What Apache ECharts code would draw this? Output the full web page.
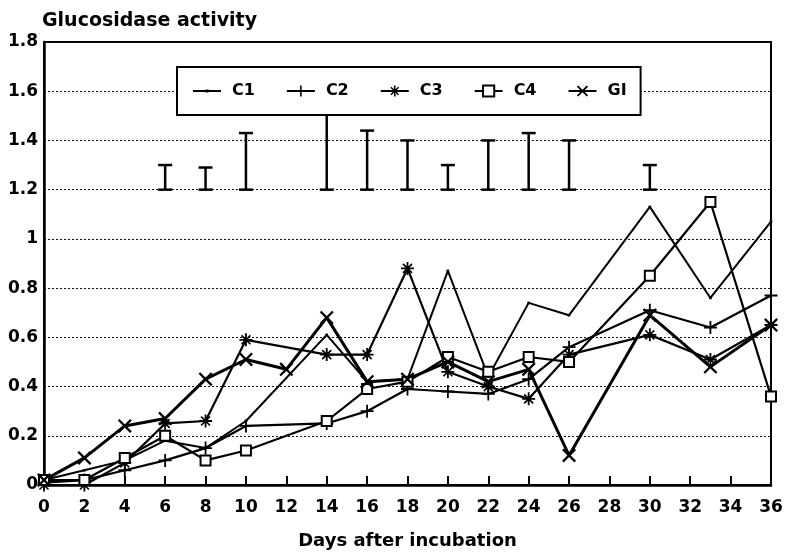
<!DOCTYPE html>
<html>
<head>
<meta charset="utf-8">
<script src="https://cdn.jsdelivr.net/npm/echarts@6/dist/echarts.min.js"></script>
<style>
html,body{margin:0;padding:0;background:#fff;}
#chart{width:787px;height:555px;}
</style>
</head>
<body>
<div id="chart"></div>
<script>
// ---- data ----
var days = [0, 2, 4, 6, 8, 10, 12, 14, 16, 18, 20, 22, 24, 26, 30, 33, 36];
var c1Vals = [0.02, 0.06, 0.10, 0.18, 0.15, 0.26, null, 0.61, 0.42, 0.43, 0.87, 0.44, 0.74, 0.69, 1.13, 0.76, 1.07];
var c2Vals = [0.01, 0.02, 0.06, 0.10, 0.15, 0.24, null, 0.25, 0.30, 0.39, 0.38, 0.37, 0.43, 0.56, 0.71, 0.64, 0.77];
var c3Vals = [0.00, 0.00, 0.09, 0.25, 0.26, 0.59, null, 0.53, 0.53, 0.88, 0.46, 0.40, 0.35, 0.53, 0.61, 0.51, 0.65];
var c4Vals = [0.02, 0.02, 0.11, 0.20, 0.10, 0.14, null, 0.26, 0.39, 0.42, 0.52, 0.46, 0.52, 0.50, 0.85, 1.15, 0.36];
var giVals = [0.02, 0.11, 0.24, 0.27, 0.43, 0.51, 0.47, 0.68, 0.42, 0.43, 0.50, 0.42, 0.47, 0.12, 0.69, 0.48, 0.65];
var seriesNames = ['C1', 'C2', 'C3', 'C4', 'GI'];

var errDays = [6, 8, 10, 14, 16, 18, 20, 22, 24, 26, 30];
var errTop = [1.30, 1.29, 1.43, 1.60, 1.44, 1.40, 1.30, 1.40, 1.43, 1.40, 1.30];
var errBase = 1.2;

var xTicks = [0, 2, 4, 6, 8, 10, 12, 14, 16, 18, 20, 22, 24, 26, 28, 30, 32, 34, 36];
var yTicks = [0, 0.2, 0.4, 0.6, 0.8, 1, 1.2, 1.4, 1.6, 1.8];

// ---- build ----
function pairs(vals) {
  var out = [];
  for (var i = 0; i < days.length; i++) {
    if (vals[i] !== null) out.push([days[i], vals[i]]);
  }
  return out;
}

var FONT = 'DejaVu Sans';
var symDot = 'path://M-5,-5 L-5,-5 M5,5 L5,5 M-1.3,-1.3 L1.3,-1.3 L1.3,1.3 L-1.3,1.3 Z';
var symPlus = 'path://M-0.7,-5 L0.7,-5 L0.7,5 L-0.7,5 Z M-5,-0.7 L5,-0.7 L5,0.7 L-5,0.7 Z';
var symCross = 'path://M-4.3,-3.3 L-3.3,-4.3 L4.3,3.3 L3.3,4.3 Z M3.3,-4.3 L4.3,-3.3 L-3.3,4.3 L-4.3,3.3 Z';
var symStar = 'path://M-0.7,-5 L0.7,-5 L0.7,5 L-0.7,5 Z M-5,-0.7 L5,-0.7 L5,0.7 L-5,0.7 Z M-3.9,-3.0 L-3.0,-3.9 L3.9,3.0 L3.0,3.9 Z M3.0,-3.9 L3.9,-3.0 L-3.0,3.9 L-3.9,3.0 Z';

var specs = [
  {name: 'C1', vals: c1Vals, symbol: symDot, size: 10, width: 2},
  {name: 'C2', vals: c2Vals, symbol: symPlus, size: 13, width: 2.2},
  {name: 'C3', vals: c3Vals, symbol: symStar, size: 13, width: 2.2},
  {name: 'C4', vals: c4Vals, symbol: 'emptyRect', size: 10, width: 2.2},
  {name: 'GI', vals: giVals, symbol: symCross, size: 14, width: 3}
];

var series = specs.map(function (s) {
  return {
    name: s.name,
    type: 'line',
    data: pairs(s.vals),
    symbol: s.symbol,
    symbolSize: s.size,
    showAllSymbol: true,
    lineStyle: {color: '#000', width: s.width},
    itemStyle: s.symbol === 'emptyRect'
      ? {color: '#000', borderColor: '#000', borderWidth: 2}
      : {color: '#000', borderWidth: 0},
    z: 3,
    animation: false
  };
});

var errData = errDays.map(function (d, i) { return [d, errBase, errTop[i]]; });
series.push({
  name: 'LSD',
  type: 'custom',
  data: errData,
  z: 2,
  animation: false,
  renderItem: function (params, api) {
    var x = api.value(0);
    var lo = api.coord([x, api.value(1)]);
    var hi = api.coord([x, api.value(2)]);
    var hw = 7;
    var st = {stroke: '#000', lineWidth: 2.5};
    return {
      type: 'group',
      children: [
        {type: 'line', shape: {x1: lo[0], y1: lo[1], x2: hi[0], y2: hi[1]}, style: st},
        {type: 'line', shape: {x1: lo[0] - hw, y1: lo[1], x2: lo[0] + hw, y2: lo[1]}, style: st},
        {type: 'line', shape: {x1: hi[0] - hw, y1: hi[1], x2: hi[0] + hw, y2: hi[1]}, style: st}
      ]
    };
  }
});

var chart = echarts.init(document.getElementById('chart'), null, {renderer: 'canvas'});
chart.setOption({
  backgroundColor: '#fff',
  animation: false,
  title: {
    text: 'Glucosidase activity',
    left: 42,
    top: 12,
    padding: 0,
    textStyle: {fontFamily: FONT, fontWeight: 'bold', fontSize: 19, color: '#000'}
  },
  legend: {
    data: seriesNames,
    left: 177,
    top: 67,
    orient: 'horizontal',
    itemWidth: 28,
    itemHeight: 14,
    itemGap: 31,
    padding: [16, 14, 16, 15],
    borderColor: '#000',
    borderWidth: 2,
    backgroundColor: '#fff',
    z: 10,
    selectedMode: false,
    textStyle: {fontFamily: FONT, fontWeight: 'bold', fontSize: 16, color: '#000', padding: [0, 0, 0, 6]}
  },
  grid: {
    left: 44, right: 16, top: 42, bottom: 67,
    show: true, borderColor: '#000', borderWidth: 2, backgroundColor: 'transparent'
  },
  xAxis: {
    type: 'value',
    min: xTicks[0],
    max: xTicks[xTicks.length - 1],
    interval: 2,
    name: 'Days after incubation',
    nameLocation: 'middle',
    nameGap: 47,
    nameTextStyle: {fontFamily: FONT, fontWeight: 'bold', fontSize: 18, color: '#000'},
    axisLine: {show: true, lineStyle: {color: '#000', width: 2.5}},
    axisTick: {show: true, inside: true, length: 9, lineStyle: {color: '#000', width: 2}},
    axisLabel: {
      margin: 14, color: '#000', fontFamily: FONT, fontWeight: 'bold', fontSize: 17,
      formatter: function (v) { return xTicks.indexOf(v) >= 0 ? String(v) : ''; }
    },
    splitLine: {show: false}
  },
  yAxis: {
    type: 'value',
    min: yTicks[0],
    max: yTicks[yTicks.length - 1],
    interval: 0.2,
    axisLine: {show: true, lineStyle: {color: '#000', width: 2.5}},
    axisTick: {show: false},
    axisLabel: {
      margin: 6, color: '#000', fontFamily: FONT, fontWeight: 'bold', fontSize: 17,
      formatter: function (v) { return String(Math.round(v * 10) / 10); }
    },
    splitLine: {show: true, lineStyle: {color: '#111', width: 1, type: [2, 2]}}
  },
  series: series
});
</script>
</body>
</html>
